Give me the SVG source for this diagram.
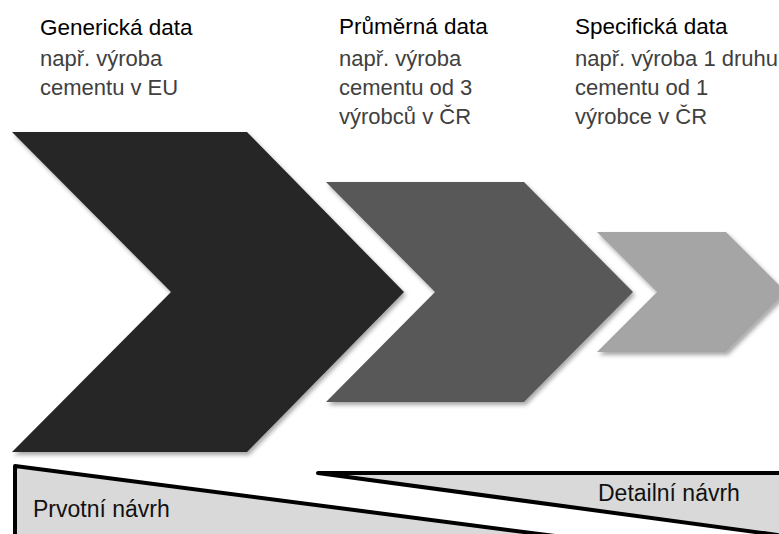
<svg xmlns="http://www.w3.org/2000/svg" width="779" height="534" viewBox="0 0 779 534">
<style>
.head{font-family:"Liberation Sans",Arial,sans-serif;font-size:22.5px;fill:#000}
.body{font-family:"Liberation Sans",Arial,sans-serif;font-size:22px;fill:#404040}
.lbl{font-family:"Liberation Sans",Arial,sans-serif;font-size:23px;fill:#111}
.tri{fill:#d9d9d9;stroke:#000;stroke-width:4;stroke-linejoin:round}
</style>
<defs>
<filter id="sh" x="-10%" y="-10%" width="120%" height="120%">
<feDropShadow dx="2" dy="3" stdDeviation="2" flood-color="#000" flood-opacity="0.35"/>
</filter>
</defs>
<rect width="779" height="534" fill="#fff"/>
<g id="chevron-generic">
<polygon points="12,132 247,132 404,292 247,452 12,452 171,292" fill="#262626" filter="url(#sh)"/>
<text class="head" x="40" y="35">Generická data</text>
<text class="body" x="40" y="66">např. výroba</text>
<text class="body" x="40" y="95">cementu v EU</text>
</g>
<g id="chevron-average">
<polygon points="326,182 524,182 633,292 524,402 326,402 435,292" fill="#595959" filter="url(#sh)"/>
<text class="head" x="339" y="34">Průměrná data</text>
<text class="body" x="339" y="66">např. výroba</text>
<text class="body" x="339" y="95">cementu od 3</text>
<text class="body" x="339" y="124">výrobců v ČR</text>
</g>
<g id="chevron-specific">
<polygon points="597,232 726,232 786,292 726,352 597,352 657,292" fill="#a5a5a5" filter="url(#sh)"/>
<text class="head" x="575" y="34">Specifická data</text>
<text class="body" x="575" y="66">např. výroba 1 druhu</text>
<text class="body" x="575" y="95">cementu od 1</text>
<text class="body" x="575" y="124">výrobce v ČR</text>
</g>
<g id="bar-prvotni">
<polygon class="tri" points="15,466 555,536 15,536"/>
<text class="lbl" x="33" y="517">Prvotní návrh</text>
</g>
<g id="bar-detailni">
<polygon class="tri" points="318,473 800,473 800,538"/>
<text class="lbl" x="598" y="501">Detailní návrh</text>
</g>
<g id="connectors"></g>
</svg>
